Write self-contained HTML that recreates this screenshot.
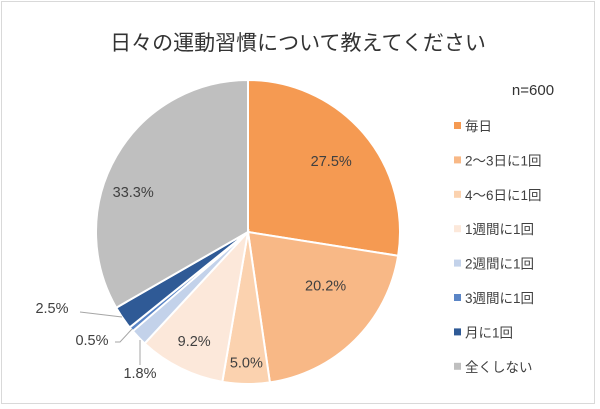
<!DOCTYPE html>
<html><head><meta charset="utf-8"><style>
body{margin:0;background:#fff;}
#wrap{position:relative;width:600px;height:409px;overflow:hidden;font-family:"Liberation Sans","Noto Sans CJK JP",sans-serif;}
#frame{position:absolute;left:1px;top:1px;width:594px;height:403px;border:1px solid #d9d9d9;box-sizing:border-box;}
</style></head><body>
<div id="wrap">
<div id="frame"></div>
<svg id="svg" width="600" height="409" style="position:absolute;left:0;top:0">
<text x="298" y="50" text-anchor="middle" font-size="21" fill="#333">日々の運動習慣について教えてください</text>
<text x="533" y="95" text-anchor="middle" font-size="15" fill="#333">n=600</text>
<g id="pie"></g>
<g id="labels"></g>
<g id="legend"></g>
</svg>
</div>
<script>
const categories=["毎日","2～3日に1回","4～6日に1回","1週間に1回","2週間に1回","3週間に1回","月に1回","全くしない"];
const values=[27.5,20.2,5.0,9.2,1.8,0.5,2.5,33.3];
const colors=["#F59A52","#F8B886","#FBD2AF","#FCE8DA","#C3D2EA","#5A85C6","#2F5A96","#BFBFBF"];
const cx=248,cy=232,R=152;
const NS="http://www.w3.org/2000/svg";
const pie=document.getElementById('pie'),lab=document.getElementById('labels'),leg=document.getElementById('legend');
const total=values.reduce((a,b)=>a+b,0);
function pt(frac,r){const a=frac*2*Math.PI;return [cx+r*Math.sin(a),cy-r*Math.cos(a)];}
let cum=0;
const lf=[0.72,0.62,0.86,0.8,0,0,0,0.8];
const shift=[0,0.03,0,0,0,0,0,0.03];
const outside={4:[140,378,[[140,365],[140,340]]],5:[92,345,[[115,342],[120,342],[132,329]]],6:[52,313,[[80,312],[122,317]]]};
values.forEach((v,i)=>{
 const f0=cum/total,f1=(cum+v)/total;cum+=v;
 const [x0,y0]=pt(f0,R),[x1,y1]=pt(f1,R);
 const p=document.createElementNS(NS,'path');
 p.setAttribute('d',`M${cx},${cy}L${x0},${y0}A${R},${R} 0 ${(f1-f0)>0.5?1:0} 1 ${x1},${y1}Z`);
 p.setAttribute('fill',colors[i]);p.setAttribute('stroke','#fff');p.setAttribute('stroke-width','2');
 
 
 pie.appendChild(p);
 const t=document.createElementNS(NS,'text');
 t.setAttribute('font-size','14.5');t.setAttribute('fill','#404040');t.setAttribute('text-anchor','middle');
 if(outside[i]){
  const o=outside[i];t.setAttribute('x',o[0]);t.setAttribute('y',o[1]);
  const pl=document.createElementNS(NS,'polyline');
  pl.setAttribute('points',o[2].map(q=>q.join(',')).join(' '));
  pl.setAttribute('fill','none');pl.setAttribute('stroke','#a6a6a6');pl.setAttribute('stroke-width','1');
  
  
  lab.appendChild(pl);
 }else{
  const [lx,ly]=pt((f0+f1)/2-shift[i],R*lf[i]);t.setAttribute('x',lx);t.setAttribute('y',ly+5);
 }
 t.textContent=v.toFixed(1)+'%';
 
 
 lab.appendChild(t);
 const y=126+i*34.4;
 const r=document.createElementNS(NS,'rect');
 r.setAttribute('x',454);r.setAttribute('y',y-4);r.setAttribute('width',7);r.setAttribute('height',7);r.setAttribute('fill',colors[i]);
 
 
 leg.appendChild(r);
 const lt=document.createElementNS(NS,'text');
 lt.setAttribute('x',465);lt.setAttribute('y',y+5);lt.setAttribute('font-size','13.5');lt.setAttribute('fill','#404040');
 lt.textContent=categories[i];
 
 
 leg.appendChild(lt);
});
</script>
</body></html>
